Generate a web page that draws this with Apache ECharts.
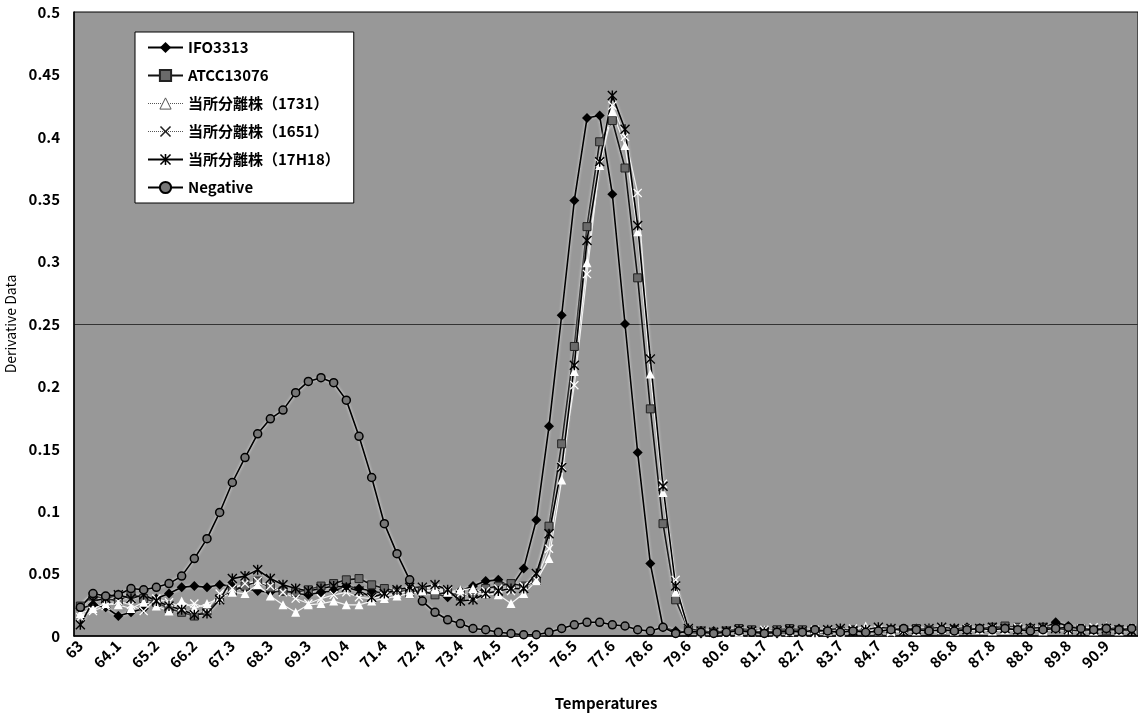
<!DOCTYPE html>
<html>
<head>
    <meta charset="utf-8">
    <title>Derivative Data</title>
    <script src="https://cdn.jsdelivr.net/npm/echarts/dist/echarts.min.js"></script>
    <style>
        body { margin: 0; background: #fff; }
    </style>
</head>
<body>
<div id="main" style="width: 1138px;height:714px;"></div>

<script type="text/javascript">
    // temperatures (every 3rd one is printed on the axis)
    var temps = [
        '63', '63.3', '63.7', '64.1', '64.4', '64.8', '65.2', '65.5', '65.8', '66.2', '66.5', '66.9',
        '67.3', '67.6', '67.9', '68.3', '68.6', '69', '69.3', '69.7', '70', '70.4', '70.7', '71',
        '71.4', '71.7', '72.1', '72.4', '72.7', '73.1', '73.4', '73.8', '74.1', '74.5', '74.8', '75.1',
        '75.5', '75.8', '76.2', '76.5', '76.9', '77.2', '77.6', '77.9', '78.2', '78.6', '78.9', '79.3',
        '79.6', '79.9', '80.3', '80.6', '81', '81.3', '81.7', '82', '82.3', '82.7', '83', '83.4',
        '83.7', '84.1', '84.4', '84.7', '85.1', '85.4', '85.8', '86.1', '86.5', '86.8', '87.1', '87.5',
        '87.8', '88.1', '88.5', '88.8', '89.2', '89.5', '89.8', '90.2', '90.5', '90.9', '91.2', '91.6'
    ];

    var ifo3313 = [
        0.022, 0.025, 0.023, 0.016, 0.019, 0.022, 0.030, 0.034, 0.039, 0.040, 0.039, 0.041,
        0.040, 0.038, 0.036, 0.035, 0.036, 0.034, 0.033, 0.035, 0.036, 0.040, 0.038, 0.036,
        0.034, 0.036, 0.037, 0.035, 0.034, 0.031, 0.036, 0.040, 0.044, 0.045, 0.039, 0.054,
        0.093, 0.168, 0.257, 0.349, 0.415, 0.417, 0.354, 0.250, 0.147, 0.058, 0.007, 0.004,
        0.003, 0.002, 0.004, 0.003, 0.005, 0.004, 0.003, 0.002, 0.003, 0.004, 0.003, 0.002,
        0.004, 0.005, 0.003, 0.004, 0.005, 0.004, 0.006, 0.005, 0.004, 0.006, 0.007, 0.005,
        0.004, 0.006, 0.005, 0.007, 0.006, 0.011, 0.008, 0.006, 0.005, 0.007, 0.006, 0.005
    ];
    var atcc13076 = [
        0.024, 0.032, 0.030, 0.028, 0.034, 0.030, 0.027, 0.022, 0.019, 0.016, 0.020, 0.030,
        0.036, 0.040, 0.044, 0.039, 0.036, 0.035, 0.037, 0.040, 0.042, 0.045, 0.046, 0.041,
        0.038, 0.036, 0.034, 0.036, 0.033, 0.035, 0.032, 0.034, 0.038, 0.040, 0.042, 0.040,
        0.044, 0.088, 0.154, 0.232, 0.328, 0.396, 0.413, 0.375, 0.287, 0.182, 0.090, 0.029,
        0.005, 0.004, 0.003, 0.004, 0.006, 0.005, 0.004, 0.005, 0.006, 0.005, 0.004, 0.003,
        0.004, 0.005, 0.004, 0.003, 0.004, 0.005, 0.006, 0.005, 0.004, 0.005, 0.006, 0.005,
        0.007, 0.008, 0.007, 0.006, 0.007, 0.006, 0.005, 0.006, 0.005, 0.004, 0.005, 0.006
    ];
    var s1731 = [
        0.018, 0.022, 0.026, 0.025, 0.022, 0.027, 0.024, 0.020, 0.028, 0.022, 0.026, 0.030,
        0.035, 0.034, 0.041, 0.032, 0.025, 0.019, 0.025, 0.026, 0.028, 0.025, 0.025, 0.028,
        0.030, 0.032, 0.034, 0.036, 0.037, 0.035, 0.037, 0.038, 0.034, 0.033, 0.026, 0.034,
        0.044, 0.062, 0.125, 0.212, 0.299, 0.377, 0.420, 0.393, 0.324, 0.210, 0.115, 0.035,
        0.005, 0.003, 0.002, 0.004, 0.003, 0.004, 0.005, 0.003, 0.004, 0.003, 0.002, 0.004,
        0.003, 0.005, 0.008, 0.006, 0.004, 0.005, 0.004, 0.006, 0.005, 0.004, 0.006, 0.005,
        0.004, 0.005, 0.006, 0.005, 0.004, 0.006, 0.005, 0.007, 0.004, 0.008, 0.004, 0.007
    ];
    var s1651 = [
        0.015, 0.020, 0.024, 0.028, 0.025, 0.020, 0.030, 0.027, 0.023, 0.026, 0.022, 0.034,
        0.038, 0.042, 0.044, 0.040, 0.035, 0.030, 0.026, 0.030, 0.033, 0.035, 0.031, 0.030,
        0.032, 0.034, 0.036, 0.039, 0.038, 0.036, 0.034, 0.032, 0.036, 0.038, 0.036, 0.040,
        0.045, 0.070, 0.136, 0.201, 0.290, 0.379, 0.425, 0.400, 0.355, 0.222, 0.122, 0.045,
        0.006, 0.004, 0.003, 0.002, 0.004, 0.003, 0.005, 0.004, 0.003, 0.004, 0.005, 0.004,
        0.003, 0.006, 0.004, 0.005, 0.003, 0.004, 0.005, 0.006, 0.005, 0.004, 0.006, 0.005,
        0.006, 0.005, 0.007, 0.006, 0.005, 0.006, 0.005, 0.006, 0.007, 0.006, 0.005, 0.006
    ];
    var s17h18 = [
        0.009, 0.028, 0.030, 0.033, 0.030, 0.033, 0.028, 0.024, 0.021, 0.017, 0.018, 0.029,
        0.046, 0.048, 0.053, 0.046, 0.041, 0.038, 0.036, 0.038, 0.040, 0.039, 0.036, 0.031,
        0.034, 0.037, 0.039, 0.039, 0.041, 0.037, 0.028, 0.029, 0.034, 0.036, 0.038, 0.038,
        0.050, 0.082, 0.135, 0.217, 0.317, 0.380, 0.433, 0.406, 0.329, 0.222, 0.120, 0.040,
        0.006, 0.004, 0.003, 0.004, 0.005, 0.004, 0.003, 0.004, 0.005, 0.004, 0.003, 0.005,
        0.006, 0.004, 0.005, 0.007, 0.006, 0.004, 0.005, 0.006, 0.007, 0.006, 0.005, 0.006,
        0.007, 0.006, 0.005, 0.006, 0.007, 0.006, 0.005, 0.004, 0.005, 0.006, 0.005, 0.004
    ];
    var negative = [
        0.023, 0.034, 0.032, 0.033, 0.038, 0.037, 0.039, 0.042, 0.048, 0.062, 0.078, 0.099,
        0.123, 0.143, 0.162, 0.174, 0.181, 0.195, 0.204, 0.207, 0.203, 0.189, 0.160, 0.127,
        0.090, 0.066, 0.045, 0.028, 0.019, 0.013, 0.010, 0.006, 0.005, 0.003, 0.002, 0.001,
        0.001, 0.003, 0.006, 0.009, 0.011, 0.011, 0.009, 0.008, 0.005, 0.004, 0.007, 0.002,
        0.004, 0.003, 0.002, 0.003, 0.004, 0.003, 0.002, 0.003, 0.004, 0.003, 0.005, 0.004,
        0.003, 0.004, 0.003, 0.004, 0.005, 0.006, 0.005, 0.004, 0.005, 0.004, 0.005, 0.006,
        0.005, 0.006, 0.005, 0.004, 0.005, 0.006, 0.007, 0.006, 0.005, 0.006, 0.005, 0.006
    ];

    var yTicks = ['0', '0.05', '0.1', '0.15', '0.2', '0.25', '0.3', '0.35', '0.4', '0.45', '0.5'];

    // marker shapes that echarts has no name for
    var crossPath = 'path://M1,0L5,4L9,0L10,1L6,5L10,9L9,10L5,6L1,10L0,9L4,5L0,1Z';
    var starPath = 'path://M1,0L5,4L9,0L10,1L6,5L10,9L9,10L5,6L1,10L0,9L4,5L0,1Z M4.3,0L5.7,0L5.7,10L4.3,10Z';

    var font = 'Noto Sans CJK JP';
    var halo = { shadowColor: 'rgba(255,255,255,0.9)', shadowBlur: 3 };

    // only the 0.25 line is visible on the plot
    var splitColors = [];
    for (var i = 0; i < yTicks.length; i++) {
        splitColors.push(yTicks[i] === '0.25' ? '#333' : 'rgba(0,0,0,0)');
    }

    var myChart = echarts.init(document.getElementById('main'));

    var option = {
        animation: false,
        textStyle: { fontFamily: font },
        grid: {
            left: 74, right: 0, top: 12, bottom: 78,
            outerBoundsMode: 'none',
            containLabel: false,
            show: true,
            backgroundColor: '#989898',
            borderColor: '#000',
            borderWidth: 1
        },
        legend: {
            orient: 'vertical',
            left: 135, top: 32,
            padding: [8, 14, 8, 12],
            itemGap: 13,
            itemWidth: 35,
            itemHeight: 14,
            backgroundColor: '#fff',
            borderColor: '#000',
            borderWidth: 1,
            borderRadius: 0,
            textStyle: { fontSize: 15, color: '#000', fontFamily: font, fontWeight: 'bold' },
            data: [
                { name: 'IFO3313' },
                { name: 'ATCC13076' },
                { name: '当所分離株（1731）', lineStyle: { color: '#555', type: 'dotted', width: 1 },
                  itemStyle: { color: '#fff', borderColor: '#555', borderWidth: 1 } },
                { name: '当所分離株（1651）', lineStyle: { color: '#555', type: 'dotted', width: 1 },
                  itemStyle: { color: '#222', borderColor: '#222', borderWidth: 0 } },
                { name: '当所分離株（17H18）' },
                { name: 'Negative' }
            ]
        },
        xAxis: {
            type: 'category',
            data: temps,
            boundaryGap: true,
            name: 'Temperatures',
            nameLocation: 'middle',
            nameGap: 60,
            nameTextStyle: { fontSize: 15, color: '#000', fontWeight: 'bold' },
            axisLine: { lineStyle: { color: '#000', width: 1.5 } },
            axisTick: { show: false },
            axisLabel: { interval: 2, rotate: 45, fontSize: 15, color: '#000', margin: 7, fontWeight: 'bold' }
        },
        yAxis: {
            type: 'value',
            min: 0, max: 0.5, interval: 0.05,
            name: 'Derivative Data',
            nameLocation: 'middle',
            nameGap: 54,
            nameTextStyle: { fontSize: 14, color: '#000' },
            axisLine: { show: true, lineStyle: { color: '#000', width: 1.5 } },
            axisTick: { show: false },
            axisLabel: {
                fontSize: 15, color: '#000', margin: 14, fontWeight: 'bold',
                formatter: function (v) { return yTicks[Math.round(v / 0.05)]; }
            },
            splitLine: { show: true, lineStyle: { color: splitColors, width: 1 } }
        },
        series: [
            {
                name: 'IFO3313', type: 'line', data: ifo3313, showAllSymbol: true,
                symbol: 'diamond', symbolSize: 10,
                lineStyle: Object.assign({ color: '#000', width: 1.6 }, halo),
                itemStyle: { color: '#000' }
            },
            {
                name: 'ATCC13076', type: 'line', data: atcc13076, showAllSymbol: true,
                symbol: 'rect', symbolSize: 8,
                lineStyle: Object.assign({ color: '#111', width: 1.6 }, halo),
                itemStyle: { color: '#6a6a6a', borderColor: '#222', borderWidth: 1 }
            },
            {
                name: '当所分離株（1731）', type: 'line', data: s1731, showAllSymbol: true,
                symbol: 'triangle', symbolSize: 9,
                lineStyle: { color: '#f4f4f4', width: 1.2 },
                itemStyle: { color: '#fff', borderColor: '#fff', borderWidth: 0 }
            },
            {
                name: '当所分離株（1651）', type: 'line', data: s1651, showAllSymbol: true,
                symbol: crossPath, symbolSize: 9,
                lineStyle: { color: '#eeeeee', width: 1.2 },
                itemStyle: { color: '#fff' }
            },
            {
                name: '当所分離株（17H18）', type: 'line', data: s17h18, showAllSymbol: true,
                symbol: starPath, symbolSize: 10,
                lineStyle: Object.assign({ color: '#000', width: 1.6 }, halo),
                itemStyle: { color: '#000' }
            },
            {
                name: 'Negative', type: 'line', data: negative, showAllSymbol: true,
                symbol: 'circle', symbolSize: 8,
                lineStyle: Object.assign({ color: '#000', width: 1.6 }, halo),
                itemStyle: { color: '#777', borderColor: '#000', borderWidth: 1.5 }
            }
        ]
    };

    myChart.setOption(option);
</script>
</body>
</html>
